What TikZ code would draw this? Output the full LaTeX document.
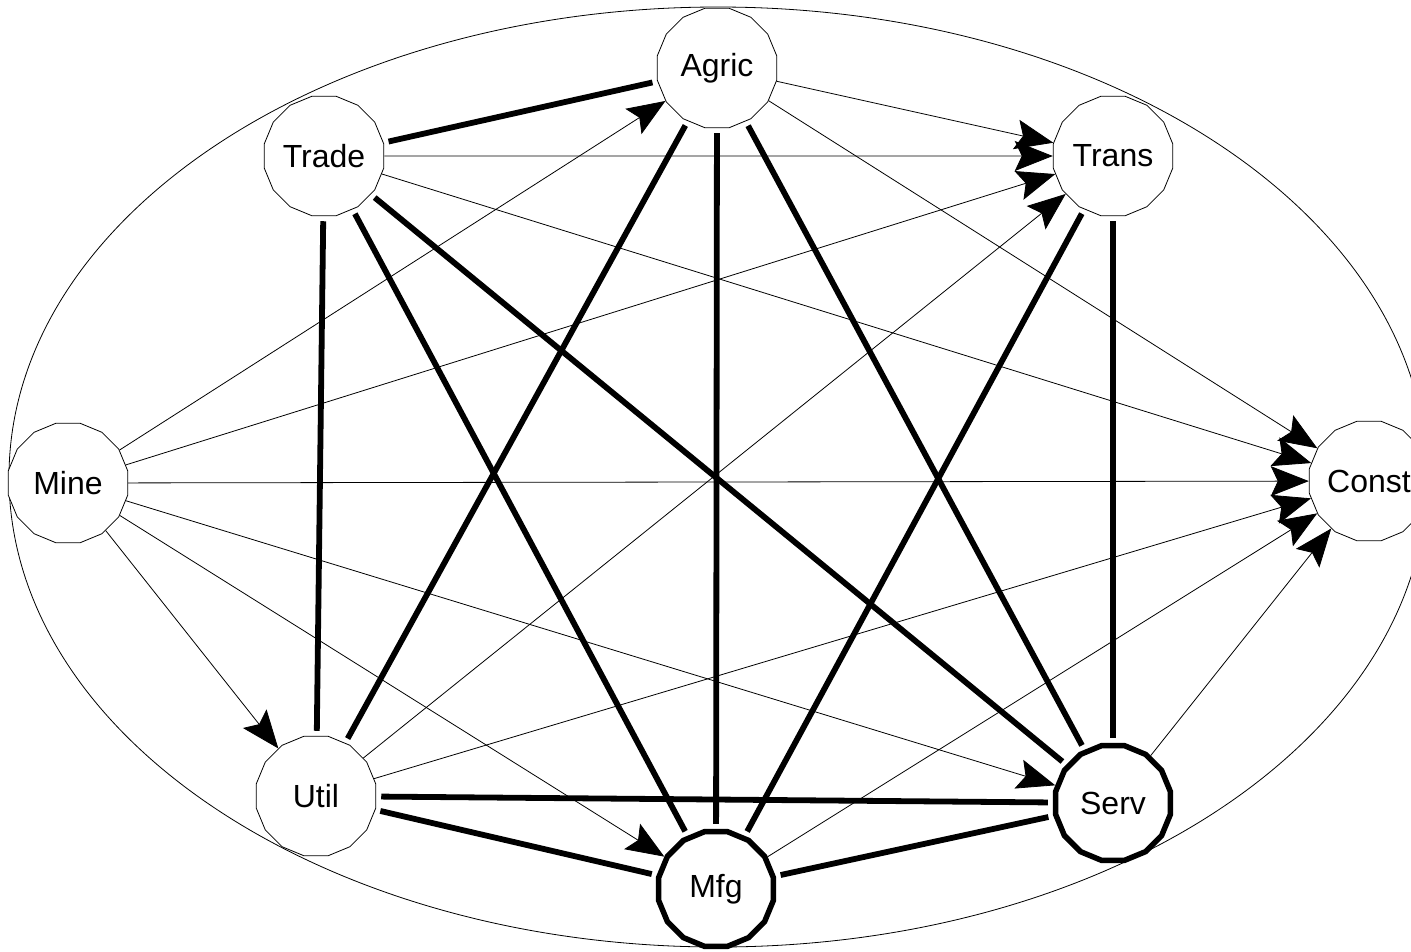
\documentclass[tikz,border=0pt]{standalone}
\usepackage{fontspec}
\setmainfont{Liberation Sans}
\usetikzlibrary{shapes.geometric,arrows.meta}
\begin{document}
\begin{tikzpicture}[x=1pt,y=-1pt,
  sector/.style={regular polygon,regular polygon sides=16,draw=black,line width=0.8pt,fill=white,
    minimum size=122pt,inner sep=0pt,font=\fontsize{32}{38}\selectfont},
  bigsector/.style={sector,line width=5.5pt,minimum size=117pt},
  strong/.style={line width=5.8pt,shorten <=5pt,shorten >=5pt},
  flow/.style={line width=0.8pt,-{Stealth[length=38pt,width=30pt,inset=7pt]}}]
\useasboundingbox (0,0) rectangle (1411,951);
\clip (0,0) rectangle (1411,951);
\draw[line width=0.8pt] (718,477) ellipse [x radius=709pt,y radius=470pt];
\node[sector] (agric) at (717,68) {Agric};
\node[sector] (trade) at (324,156) {Trade};
\node[sector] (trans) at (1113,156) {Trans};
\node[sector] (mine) at (68,483) {Mine};
\node[sector] (const) at (1369,481) {Const};
\node[sector] (util) at (316,796) {Util};
\node[bigsector] (serv) at (1113,803) {Serv};
\node[bigsector] (mfg) at (716,889) {Mfg};
% thick links
\draw[strong] (trade) -- (agric);
\draw[strong] (trade) -- (util);
\draw[strong] (trade) -- (mfg);
\draw[strong] (trade) -- (serv);
\draw[strong] (agric) -- (util);
\draw[strong] (agric) -- (mfg);
\draw[strong] (agric) -- (serv);
\draw[strong] (trans) -- (mfg);
\draw[strong] (trans) -- (serv);
\draw[strong] (util) -- (serv);
\draw[strong] (util) -- (mfg);
\draw[strong] (mfg) -- (serv);
% thin arrows
\draw[flow] (agric) -- (trans);
\draw[flow] (agric) -- (const);
\draw[flow] (trade) -- (trans);
\draw[flow] (trade) -- (const);
\draw[flow] (mine) -- (agric);
\draw[flow] (mine) -- (trans);
\draw[flow] (mine) -- (const);
\draw[flow] (mine) -- (util);
\draw[flow] (mine) -- (mfg);
\draw[flow] (mine) -- (serv);
\draw[flow] (util) -- (trans);
\draw[flow] (util) -- (const);
\draw[flow] (mfg) -- (const);
\draw[flow] (serv) -- (const);
\end{tikzpicture}
\end{document}
